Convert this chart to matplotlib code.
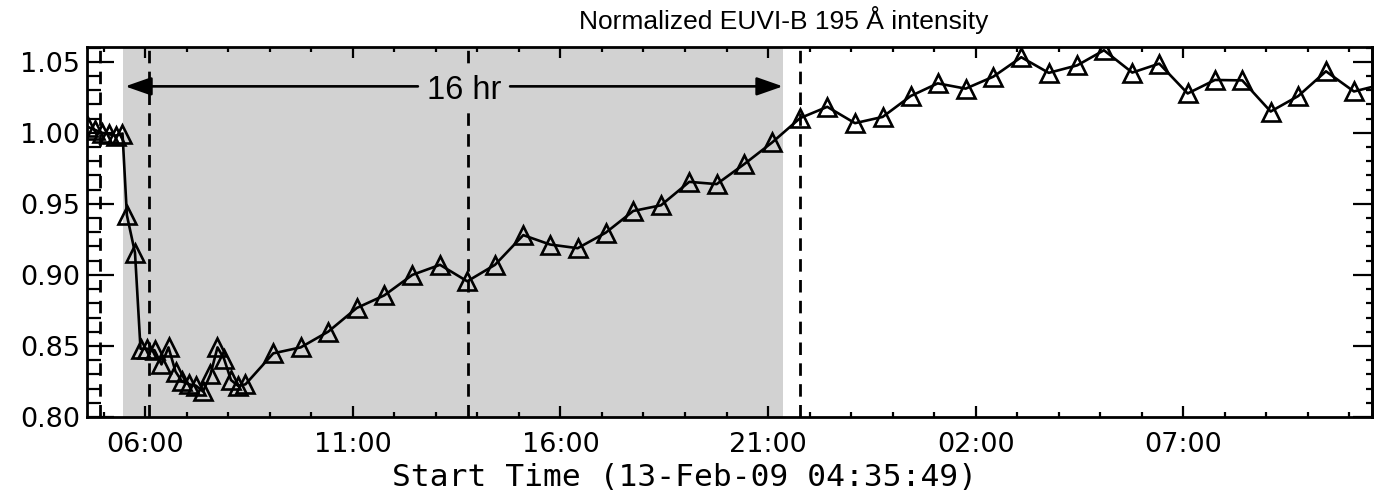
import matplotlib
matplotlib.use("Agg")
import matplotlib.pyplot as plt
from matplotlib.ticker import FixedLocator, MultipleLocator, NullFormatter

# ---------------- data ----------------
start_time = "04:35:49"          # 13-Feb-09
# hours after start time
hours = [0.036, 0.200, 0.364, 0.527, 0.691, 0.855, 0.961, 1.156, 1.289, 1.457,
         1.626, 1.794, 1.963, 2.132, 2.288, 2.457, 2.625, 2.794, 2.974, 3.143,
         3.300, 3.468, 3.637, 3.817, 4.487, 5.147, 5.812, 6.496, 7.160, 7.835,
         8.502, 9.159, 9.827, 10.508, 11.151, 11.818, 12.493, 13.157, 13.825, 14.506,
         15.166, 15.831, 16.505, 17.173, 17.830, 18.497, 19.164, 19.839, 20.489, 21.163,
         21.828, 22.502, 23.165, 23.851, 24.494, 25.176, 25.826, 26.510, 27.168, 27.825,
         28.509, 29.174, 29.841, 30.515, 31.182]
intensity = [1.004, 1.002, 1.000, 0.999, 0.998, 0.9995, 0.942, 0.9156, 0.848, 0.848,
             0.847, 0.837, 0.849, 0.832, 0.825, 0.823, 0.822, 0.818, 0.830, 0.849,
             0.841, 0.826, 0.822, 0.823, 0.8448, 0.849, 0.8601, 0.8767, 0.8856, 0.9000,
             0.9071, 0.8955, 0.9071, 0.9280, 0.9214, 0.9188, 0.9297, 0.9450, 0.9490, 0.9655,
             0.9639, 0.9780, 0.9933, 1.0103, 1.0183, 1.0068, 1.0112, 1.0259, 1.0348, 1.0311,
             1.0395, 1.0532, 1.0422, 1.0475, 1.0581, 1.0424, 1.0487, 1.0277, 1.0372, 1.0369,
             1.0150, 1.0259, 1.0433, 1.0291, 1.0340]
event_lines = [0.313, 1.486, 9.165, 17.17]   # hours after start
shade_span = [0.875, 16.77]
arrow_span = [0.92, 16.76]
arrow_level = 1.0327
arrow_text = "16 hr"
major_labels = ["06:00", "11:00", "16:00", "21:00", "02:00", "07:00"]
title = "Normalized EUVI-B 195 Å intensity"
xlabel = "Start Time (13-Feb-09 04:35:49)"
x_range = [0.0, 30.95]
y_range = [0.80, 1.0604]

# ---------------- helpers ----------------
h, m, s = (int(v) for v in start_time.split(":"))
t0 = h + m / 60 + s / 3600


def label_to_hours(lab, prev):
    hh, mm = (int(v) for v in lab.split(":"))
    val = hh + mm / 60 - t0
    while prev is not None and val < prev:
        val += 24
    return val


major_pos = []
prev = None
for lab in major_labels:
    prev = label_to_hours(lab, prev)
    major_pos.append(prev)
minor_pos = [major_pos[0] - 1 + k for k in range(0, 31)]

# ---------------- figure ----------------
W, H = 1375, 501
fig = plt.figure(figsize=(W / 100, H / 100), dpi=100)
ax = fig.add_axes([87 / W, 1 - 417 / H, (1372 - 87) / W, (417 - 47) / H])

shade = "#d2d2d2"
ax.axvspan(shade_span[0], shade_span[1], color=shade, lw=0, zorder=0)
for xv in event_lines:
    ax.axvline(xv, color="k", lw=2.0, dashes=(4.5, 3.0), zorder=2)

ax.plot(hours, intensity, color="k", lw=1.9, marker="^", ms=13.5,
        mfc="none", mec="k", mew=1.9, zorder=3)

# arrows with label
txt_x = 9.08
ax.text(txt_x, arrow_level - 0.0028, arrow_text, ha="center", va="center",
        fontsize=23.5, family="Liberation Sans", zorder=4,
        bbox=dict(boxstyle="square,pad=0.12", fc=shade, ec="none"))
astyle = dict(arrowstyle="-|>,head_length=0.8,head_width=0.28", mutation_scale=20,
              lw=1.9, color="k", shrinkA=0, shrinkB=0)
ax.annotate("", xy=(arrow_span[0], arrow_level), xytext=(7.97, arrow_level),
            arrowprops=astyle)
ax.annotate("", xy=(arrow_span[1], arrow_level), xytext=(10.19, arrow_level),
            arrowprops=astyle)

ax.set_xlim(*x_range)
ax.set_ylim(*y_range)

ax.xaxis.set_major_locator(FixedLocator(major_pos))
ax.set_xticklabels(major_labels)
ax.xaxis.set_minor_locator(FixedLocator(minor_pos))
ax.yaxis.set_major_locator(MultipleLocator(0.05))
ax.yaxis.set_minor_locator(MultipleLocator(0.01))
ax.yaxis.set_major_formatter(matplotlib.ticker.FormatStrFormatter("%.2f"))

ax.tick_params(axis="x", which="major", direction="in", length=8, width=1.6,
               top=True, bottom=True, pad=11, labelsize=19.5)
ax.tick_params(axis="x", which="minor", direction="in", length=3.5, width=1.6,
               top=True, bottom=True)
ax.tick_params(axis="y", which="major", direction="in", length=19.5, width=1.6,
               left=True, right=False, pad=5, labelsize=19.5)
ax.tick_params(axis="y", which="minor", direction="in", length=10, width=1.6,
               left=True, right=False)
for lab in ax.get_xticklabels() + ax.get_yticklabels():
    lab.set_family("DejaVu Sans")

sec = ax.secondary_yaxis("right")
sec.yaxis.set_major_locator(MultipleLocator(0.05))
sec.yaxis.set_minor_locator(MultipleLocator(0.01))
sec.yaxis.set_major_formatter(NullFormatter())
sec.tick_params(axis="y", which="major", direction="in", length=13.5, width=1.6)
sec.tick_params(axis="y", which="minor", direction="in", length=4.5, width=1.6)
sec.spines["right"].set_linewidth(2.0)

for sp in ax.spines.values():
    sp.set_linewidth(2.0)

fig.text(784 / W, 1 - 20 / H, title, ha="center", va="center",
         fontsize=19, family="Liberation Sans")
fig.text(685 / W, 1 - 478 / H, xlabel, ha="center", va="center",
         fontsize=22.5, family="DejaVu Sans Mono")

fig.savefig("out.png", dpi=100)
